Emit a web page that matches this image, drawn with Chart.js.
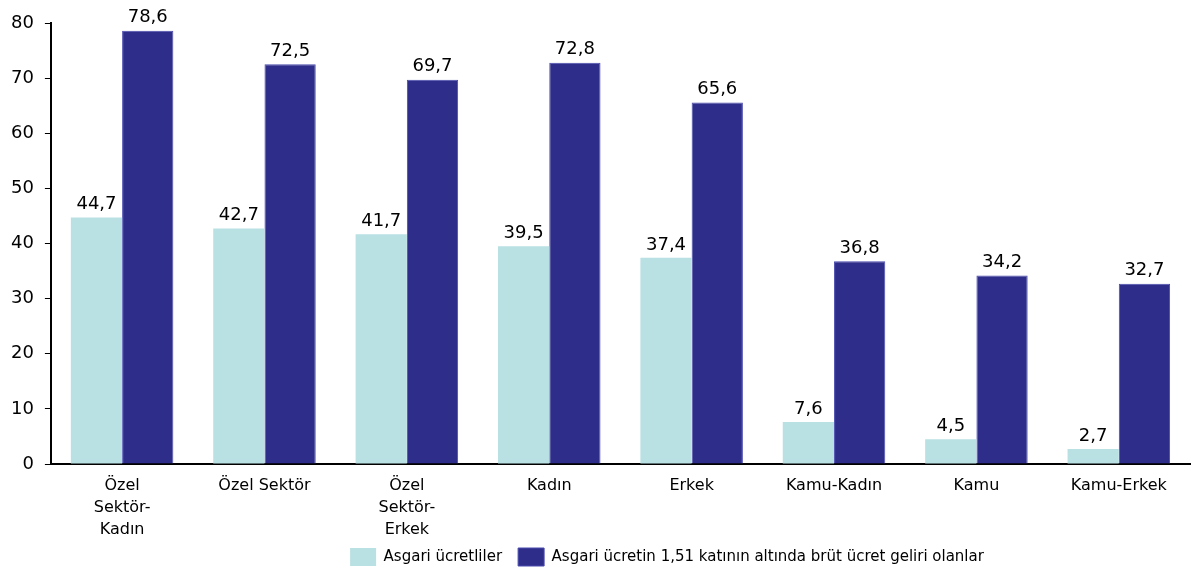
<!DOCTYPE html>
<html>
<head>
<meta charset="utf-8">
<script src="https://cdn.jsdelivr.net/npm/chart.js@4/dist/chart.umd.min.js"></script>
<style>
  html, body { margin: 0; padding: 0; background: #fff; }
  #wrap { width: 1193px; height: 576px; }
</style>
</head>
<body>
<div id="wrap"><canvas id="chart1"></canvas></div>
<script>
var categories = [
    ["Özel", "Sektör-", "Kadın"],
    "Özel Sektör",
    ["Özel", "Sektör-", "Erkek"],
    "Kadın",
    "Erkek",
    "Kamu-Kadın",
    "Kamu",
    "Kamu-Erkek"
];
var asgariUcretliler = [44.7, 42.7, 41.7, 39.5, 37.4, 7.6, 4.5, 2.7];
var altindaOlanlar = [78.6, 72.5, 69.7, 72.8, 65.6, 36.8, 34.2, 32.7];
var yTicks = [0, 10, 20, 30, 40, 50, 60, 70, 80];

var fontName = "'DejaVu Sans', sans-serif";

// values written above each bar, comma as decimal mark
var barLabels = {
    id: 'barLabels',
    afterDatasetsDraw: function (chart) {
        var c = chart.ctx;
        c.save();
        c.font = "18px " + fontName;
        c.fillStyle = "#000";
        c.textAlign = "center";
        c.textBaseline = "bottom";
        chart.data.datasets.forEach(function (ds, i) {
            chart.getDatasetMeta(i).data.forEach(function (bar, j) {
                c.fillText(ds.data[j].toFixed(1).replace('.', ','), bar.x, bar.y - 4);
            });
        });
        c.restore();
    }
};

// the legend in the source sits right of centre
var legendShift = {
    id: 'legendShift',
    afterLayout: function (chart) {
        chart.legend.left += 72;
        chart.legend.right += 72;
    }
};

var ctx = document.getElementById("chart1");

var data = {
    labels: categories,
    datasets: [{
        label: 'Asgari ücretliler',
        data: asgariUcretliler,
        backgroundColor: '#b9e0e3',
        borderWidth: 0
    }, {
        label: 'Asgari ücretin 1,51 katının altında brüt ücret geliri olanlar',
        data: altindaOlanlar,
        backgroundColor: '#2e2e8a',
        borderColor: '#4b4bb0',
        borderWidth: 1
    }]
};

var options = {
    responsive: true,
    maintainAspectRatio: false,
    animation: false,
    layout: { padding: { top: 23, right: 3, left: 0, bottom: 0 } },
    datasets: { bar: { categoryPercentage: 0.72, barPercentage: 1.0 } },
    plugins: {
        tooltip: { enabled: false },
        legend: {
            position: 'bottom',
            labels: {
                color: '#000',
                font: { family: fontName, size: 15 },
                boxWidth: 26,
                boxHeight: 18,
                padding: 16
            }
        }
    },
    scales: {
        x: {
            afterFit: function (scale) {
                // tighter than chart.js wants, so the legend sits close under the labels
                scale.height -= 20;
                scale._computeLabelArea = function () {};
            },
            grid: { display: true, drawOnChartArea: false, drawTicks: false, color: 'rgba(0,0,0,0)' },
            border: { display: true, color: '#000', width: 2 },
            ticks: {
                color: '#000',
                padding: 11,
                maxRotation: 0,
                autoSkip: false,
                font: { family: fontName, size: 16, lineHeight: 1.375 }
            }
        },
        y: {
            min: 0,
            max: 80,
            afterBuildTicks: function (axis) {
                axis.ticks = yTicks.map(function (v) { return { value: v }; });
            },
            grid: { display: true, drawOnChartArea: false, drawTicks: true, tickLength: 6, color: '#000' },
            border: { display: true, color: '#000', width: 2 },
            ticks: {
                color: '#000',
                padding: 11,
                font: { family: fontName, size: 18 }
            }
        }
    }
};

var chart1 = new Chart(ctx, {
    type: 'bar',
    data: data,
    options: options,
    plugins: [barLabels, legendShift]
});
</script>
</body>
</html>
